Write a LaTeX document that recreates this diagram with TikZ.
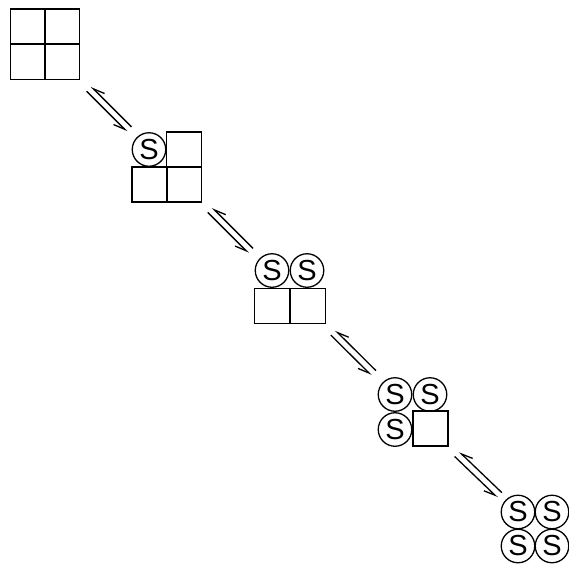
\documentclass[tikz,border=0pt]{standalone}
\usepackage{fontspec}
\setsansfont{Liberation Sans}
\usetikzlibrary{arrows.meta,calc}
\begin{document}
\begin{tikzpicture}[x=1pt,y=-1pt,
  cell/.style={draw,rectangle,minimum size=35pt,inner sep=0pt,line width=1.6pt},
  sub/.style={draw,circle,minimum size=33.5pt,inner sep=0pt,line width=1.3pt,
    font=\sffamily\fontsize{29}{29}\selectfont},
  harp/.style={line width=1.3pt,-{Straight Barb[right,length=11pt,width=9pt]}}]
\useasboundingbox (0,0) rectangle (569,568);
% group 1
\node[cell] (a11) at (28,26.5) {};
\node[cell] (a12) at (62,26.5) {};
\node[cell] (a21) at (28,62) {};
\node[cell] (a22) at (62,62) {};
\coordinate (g1) at (45,45);
% group 2
\node[sub]  (b11) at (149,149.5) {S};
\node[cell] (b12) at (184,149.5) {};
\node[cell] (b21) at (149.5,184.5) {};
\node[cell] (b22) at (184,184.5) {};
\coordinate (g2) at (167,167);
% group 3
\node[sub]  (c11) at (272,270.5) {S};
\node[cell] (c21) at (272,306) {};
\node[sub]  (c12) at (307,270.5) {S};
\node[cell] (c22) at (308,306) {};
\coordinate (g3) at (290,290);
% group 4
\node[sub]  (d11) at (395,394.5) {S};
\node[sub]  (d12) at (430,394.5) {S};
\node[sub]  (d21) at (395,429.5) {S};
\node[cell] (d22) at (430.5,428.5) {};
\coordinate (g4) at (413,412);
% group 5
\node[sub] (e11) at (518,512) {S};
\node[sub] (e12) at (552,512) {S};
\node[sub] (e21) at (518,546) {S};
\node[sub] (e22) at (552,546) {S};
\coordinate (g5) at (535,529);
% arrows
\foreach \u/\v/\s/\e in {g1/g2/0.36/0.69, g2/g3/0.35/0.68, g3/g4/0.35/0.68, g4/g5/0.36/0.71}{
  \path (\u) -- (\v) coordinate[pos=\s] (p) coordinate[pos=\e] (q);
  \draw[harp] ($(q)!3.3pt!-90:(p)$) -- ($(p)!3.3pt!90:(q)$);
  \draw[harp] ($(p)!3.3pt!-90:(q)$) -- ($(q)!3.3pt!90:(p)$);
}
\end{tikzpicture}
\end{document}
